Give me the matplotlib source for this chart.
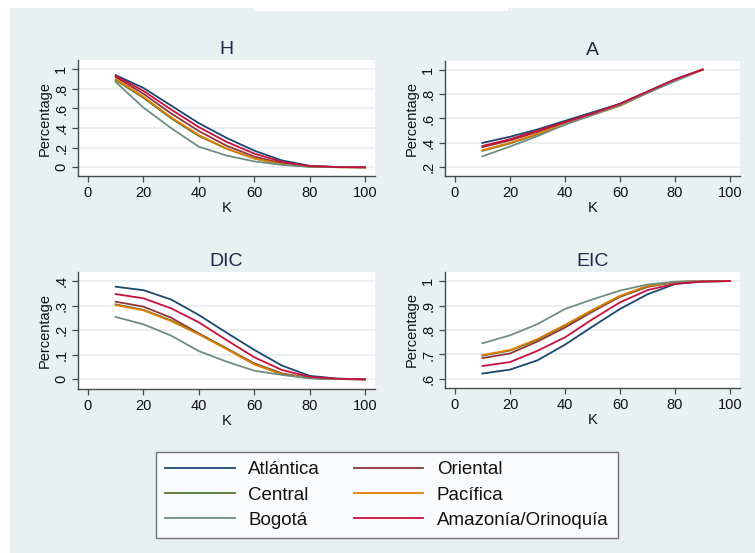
import matplotlib
matplotlib.use("Agg")
import matplotlib.pyplot as plt
from matplotlib.patches import Rectangle
from matplotlib.lines import Line2D

plt.rcParams['font.family'] = ['Liberation Sans', 'DejaVu Sans']

K = [10, 20, 30, 40, 50, 60, 70, 80, 90, 100]
K_A = [10, 20, 30, 40, 50, 60, 70, 80, 90]

regions = ["Atlántica", "Oriental", "Central", "Pacífica", "Bogotá", "Amazonía/Orinoquía"]
colors = ["#1a476f", "#90353b", "#55752f", "#e37e00", "#6e8e84", "#c8103e"]

H_atl = [0.94, 0.81, 0.63, 0.45, 0.30, 0.17, 0.07, 0.015, 0.003, 0.0]
H_ori = [0.92, 0.75, 0.55, 0.37, 0.22, 0.11, 0.04, 0.010, 0.002, 0.0]
H_cen = [0.89, 0.71, 0.50, 0.32, 0.19, 0.09, 0.03, 0.007, 0.001, 0.0]
H_pac = [0.90, 0.72, 0.51, 0.33, 0.19, 0.09, 0.03, 0.008, 0.001, 0.0]
H_bog = [0.87, 0.61, 0.40, 0.21, 0.12, 0.06, 0.025, 0.005, 0.001, 0.0]
H_ama = [0.93, 0.78, 0.59, 0.41, 0.26, 0.14, 0.055, 0.012, 0.002, 0.0]

A_atl = [0.40, 0.45, 0.51, 0.58, 0.65, 0.72, 0.82, 0.92, 1.0]
A_ori = [0.365, 0.42, 0.49, 0.565, 0.64, 0.715, 0.815, 0.915, 1.0]
A_cen = [0.335, 0.395, 0.47, 0.55, 0.63, 0.705, 0.81, 0.91, 1.0]
A_pac = [0.34, 0.40, 0.475, 0.555, 0.63, 0.705, 0.81, 0.91, 1.0]
A_bog = [0.29, 0.37, 0.455, 0.55, 0.63, 0.71, 0.81, 0.905, 1.0]
A_ama = [0.375, 0.43, 0.50, 0.57, 0.64, 0.72, 0.82, 0.92, 1.0]

DIC_atl = [0.377, 0.363, 0.325, 0.262, 0.19, 0.12, 0.056, 0.014, 0.003, 0.0]
DIC_ori = [0.316, 0.296, 0.251, 0.187, 0.126, 0.065, 0.024, 0.006, 0.001, 0.0]
DIC_cen = [0.305, 0.283, 0.24, 0.185, 0.125, 0.062, 0.021, 0.005, 0.001, 0.0]
DIC_pac = [0.302, 0.281, 0.237, 0.183, 0.123, 0.061, 0.020, 0.005, 0.001, 0.0]
DIC_bog = [0.254, 0.224, 0.178, 0.115, 0.072, 0.035, 0.018, 0.004, 0.001, 0.0]
DIC_ama = [0.347, 0.33, 0.289, 0.232, 0.16, 0.09, 0.038, 0.010, 0.002, 0.0]

EIC_atl = [0.622, 0.638, 0.676, 0.74, 0.814, 0.886, 0.946, 0.988, 0.998, 1.0]
EIC_ori = [0.685, 0.704, 0.753, 0.81, 0.875, 0.936, 0.976, 0.996, 0.999, 1.0]
EIC_cen = [0.695, 0.716, 0.76, 0.818, 0.88, 0.938, 0.979, 0.996, 0.999, 1.0]
EIC_pac = [0.698, 0.718, 0.763, 0.821, 0.882, 0.94, 0.98, 0.997, 0.999, 1.0]
EIC_bog = [0.746, 0.778, 0.824, 0.886, 0.925, 0.961, 0.986, 0.997, 0.999, 1.0]
EIC_ama = [0.653, 0.669, 0.715, 0.77, 0.844, 0.913, 0.963, 0.989, 0.998, 1.0]

panels = [
    ("H", K, [H_atl, H_ori, H_cen, H_pac, H_bog, H_ama], [0, .2, .4, .6, .8, 1], ["0", ".2", ".4", ".6", ".8", "1"], (-0.089, 1.095), (78, 375, 60, 176)),
    ("A", K_A, [A_atl, A_ori, A_cen, A_pac, A_bog, A_ama], [.2, .4, .6, .8, 1], [".2", ".4", ".6", ".8", "1"], (0.129, 1.07), (445, 740, 61, 176)),
    ("DIC", K, [DIC_atl, DIC_ori, DIC_cen, DIC_pac, DIC_bog, DIC_ama], [0, .1, .2, .3, .4], ["0", ".1", ".2", ".3", ".4"], (-0.0395, 0.437), (78, 375, 272, 389)),
    ("EIC", K, [EIC_atl, EIC_ori, EIC_cen, EIC_pac, EIC_bog, EIC_ama], [.6, .7, .8, .9, 1], [".6", ".7", ".8", ".9", "1"], (0.563, 1.037), (445, 740, 272, 388)),
]

W, Hh = 755, 553
fig = plt.figure(figsize=(W / 100, Hh / 100), dpi=100)
fig.patch.set_facecolor("white")
bg = "#e8f0f2"
fig.patches.append(Rectangle((10 / W, 0), 1 - 10 / W, 1 - 8 / Hh, transform=fig.transFigure,
                             facecolor=bg, edgecolor="none", zorder=-10))
fig.patches.append(Rectangle((254 / W, 1 - 11 / Hh), (508 - 254) / W, 11 / Hh, transform=fig.transFigure,
                             facecolor="white", edgecolor="none", zorder=-9))

for title, xs, series, yt, ytl, ylim, (l, r, t, b) in panels:
    ax = fig.add_axes([l / W, 1 - b / Hh, (r - l) / W, (b - t) / Hh])
    ax.set_facecolor("white")
    for ys, c, name in zip(series, colors, regions):
        ax.plot(xs, ys, color=c, lw=1.3, label=name, zorder=3)
    ax.set_xlim(-3.6, 103.6)
    ax.set_ylim(*ylim)
    ax.set_xticks([0, 20, 40, 60, 80, 100])
    ax.set_yticks(yt)
    ax.set_yticklabels(ytl, rotation=90, va="center")
    ax.grid(axis="y", color="#e6eef0", lw=1.2, zorder=0)
    for s in ("top", "right"):
        ax.spines[s].set_visible(False)
    for s in ("left", "bottom"):
        ax.spines[s].set_color("#4a4a4a")
        ax.spines[s].set_linewidth(1.0)
    ax.tick_params(axis="both", direction="out", length=4, width=0.9, color="#4a4a4a",
                   labelsize=10.5, labelcolor="#111111", pad=3)
    ax.set_title(title, fontsize=14, color="#1c2b4a", pad=4)
    ax.set_xlabel("K", fontsize=10.5, color="#111111", labelpad=1)
    ax.set_ylabel("Percentage", fontsize=10.5, color="#111111", labelpad=2)

order = [0, 2, 4, 1, 3, 5]
leg_h = [Line2D([0], [0], color=colors[i], lw=1.3) for i in order]
leg_l = [regions[i] for i in order]
leg = fig.legend(leg_h, leg_l, loc="upper left", bbox_to_anchor=(156 / W, 1 - 452 / Hh),
                 ncol=2, fontsize=13.5, frameon=True, fancybox=False, handlelength=3.7,
                 handletextpad=0.72, columnspacing=1.8, labelspacing=0.43, borderpad=0.5,
                 borderaxespad=0)
leg.get_frame().set_edgecolor("#555555")
leg.get_frame().set_linewidth(1.0)
for txt in leg.get_texts():
    txt.set_color("#111111")

fig.savefig("out.png", dpi=100, facecolor=fig.get_facecolor())
